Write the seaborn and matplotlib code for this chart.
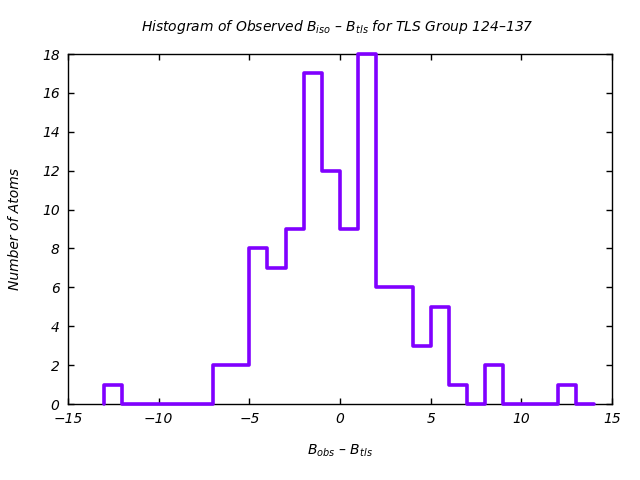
import numpy as np
import pandas as pd
import matplotlib
matplotlib.use("Agg")
import matplotlib.pyplot as plt
import seaborn as sns

# Bin left edges (width 1) and counts
bin_left = [-13, -12, -11, -10, -9, -8, -7, -6, -5, -4, -3, -2, -1, 0, 1, 2, 3,
            4, 5, 6, 7, 8, 9, 10, 11, 12, 13]
counts = [1, 0, 0, 0, 0, 0, 2, 2, 8, 7, 9, 17, 12, 9, 18, 6, 6,
          3, 5, 1, 0, 2, 0, 0, 0, 1, 0]
x_ticks = [-15, -10, -5, 0, 5, 10, 15]
y_ticks = [0, 2, 4, 6, 8, 10, 12, 14, 16, 18]

sns.set_style("ticks")
plt.rcParams['font.family'] = ['DejaVu Sans']
plt.rcParams['text.color'] = 'black'
plt.rcParams['axes.labelcolor'] = 'black'
plt.rcParams['mathtext.fontset'] = 'custom'
plt.rcParams['mathtext.rm'] = 'DejaVu Sans:italic'
plt.rcParams['mathtext.it'] = 'DejaVu Sans:italic'

# step outline: start at baseline on the first edge, end on the last edge
edges = list(bin_left) + [bin_left[-1] + 1]
xs = [edges[0]] + edges
ys = [0] + counts + [counts[-1]]
df = pd.DataFrame({"x": xs, "y": ys})

fig = plt.figure(figsize=(6.4, 4.8), dpi=100)
ax = fig.add_axes([68/640, 1 - 404/480, (612 - 68)/640, (404 - 54)/480])

sns.lineplot(data=df, x="x", y="y", estimator=None, sort=False,
             drawstyle="steps-post", color="#8000FF", linewidth=2.6,
             ax=ax, zorder=3, clip_on=False)

ax.set_xlim(-15, 15)
ax.set_ylim(0, 18)
ax.set_xticks(x_ticks)
ax.set_yticks(y_ticks)
ax.tick_params(direction="in", length=4, width=1, top=True, right=True,
               labelsize=10, colors="black", pad=6)
for lab in ax.get_xticklabels() + ax.get_yticklabels():
    lab.set_fontstyle("italic")
for s in ax.spines.values():
    s.set_visible(True)
    s.set_linewidth(1)
    s.set_color("black")
    s.set_zorder(2)

ax.set_xlabel("B$_{obs}$ – B$_{tls}$", fontsize=10, fontstyle="italic", labelpad=12, color="black")
ax.set_ylabel("Number of Atoms", fontsize=10, fontstyle="italic", labelpad=14, color="black")
fig.text(0.527, 1 - 27/480, "Histogram of Observed B$_{iso}$ – B$_{tls}$ for TLS Group 124–137",
         ha="center", va="center", fontsize=10, fontstyle="italic", color="black")

fig.savefig("out.png", dpi=100)
